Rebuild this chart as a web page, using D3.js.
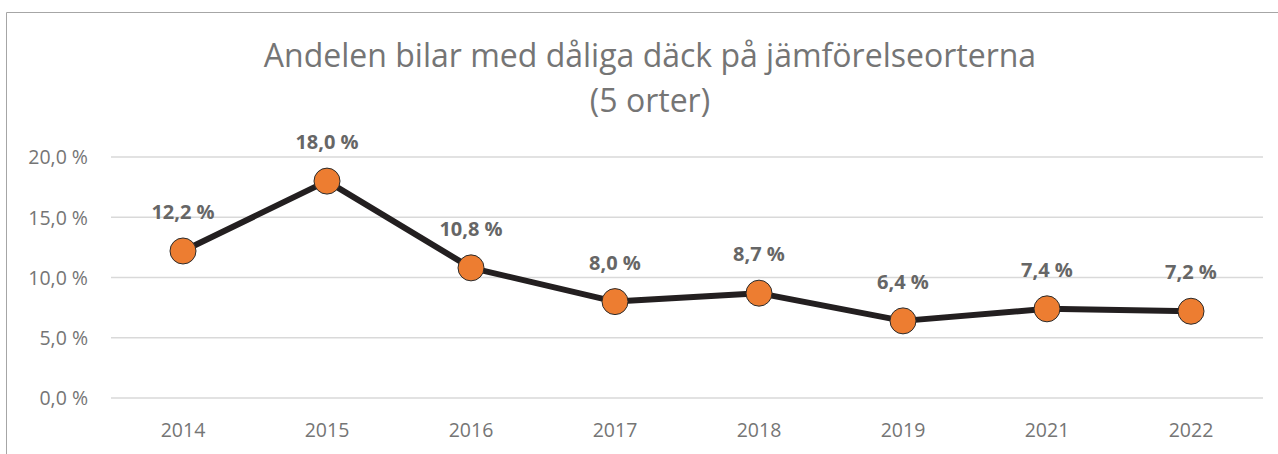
<!DOCTYPE html>
<html><head><meta charset="utf-8">
<script src="https://cdn.jsdelivr.net/npm/d3@7"></script>
<style>body{margin:0;background:#fff}svg{display:block}</style>
</head><body>
<script>
const categories = ["2014","2015","2016","2017","2018","2019","2021","2022"];
const values = [12.2, 18.0, 10.8, 8.0, 8.7, 6.4, 7.4, 7.2];
const yTicks = [0, 5, 10, 15, 20];
const titleLines = ["Andelen bilar med dåliga däck på jämförelseorterna", "(5 orter)"];

const W = 1278, H = 454;
const svg = d3.select("body").append("svg").attr("width", W).attr("height", H);
const font = "'Open Sans', sans-serif";
const fmt = v => d3.format(".1f")(v).replace(".", ",") + " %";

// frame
svg.append("path").attr("d", `M6.5,${H} V12.5 H${W}`).attr("fill","none").attr("stroke","#a6a6a6").attr("stroke-width",1);

const x = d3.scaleBand().domain(categories).range([111, 1263]);
const y = d3.scaleLinear().domain([0, 20]).range([398, 157]);

// gridlines
svg.append("g").selectAll("line").data(yTicks).join("line")
  .attr("x1", 111).attr("x2", 1263)
  .attr("y1", d => y(d)).attr("y2", d => y(d))
  .attr("stroke", "#d9d9d9").attr("stroke-width", 1.3);

// y axis
const yAxis = svg.append("g").attr("transform","translate(95,0)")
  .call(d3.axisLeft(y).tickValues(yTicks).tickFormat(fmt).tickSize(0).tickPadding(7));
yAxis.select(".domain").remove();
yAxis.selectAll("text").attr("font-family", font).attr("font-size", 19.5).attr("fill", "#757575").attr("dy","0.35em");

// x axis
const xAxis = svg.append("g").attr("transform","translate(0,398)")
  .call(d3.axisBottom(x).tickSize(0).tickPadding(0));
xAxis.select(".domain").remove();
xAxis.selectAll("text").attr("font-family", font).attr("font-size", 19.5).attr("fill", "#757575").attr("dy", null).attr("y", 39);

// title
svg.append("g").selectAll("text").data(titleLines).join("text")
  .attr("x", 650).attr("y", (d,i) => 67 + i*45)
  .attr("text-anchor","middle").attr("font-family", font).attr("font-size", 32)
  .attr("fill","#757575").text(d => d);

const cx = (d,i) => x(categories[i]) + x.bandwidth()/2;
// line
svg.append("path").datum(values)
  .attr("d", d3.line().x(cx).y(d => y(d)))
  .attr("fill","none").attr("stroke","#231f20").attr("stroke-width",6).attr("stroke-linejoin","round");

// markers
svg.append("g").selectAll("circle").data(values).join("circle")
  .attr("cx", cx).attr("cy", d => y(d)).attr("r", 13)
  .attr("fill","#ed7d31").attr("stroke","#2b2b2b").attr("stroke-width",1);

// labels
svg.append("g").selectAll("text").data(values).join("text")
  .attr("x", cx).attr("y", d => y(d) - 32)
  .attr("text-anchor","middle").attr("font-family", font).attr("font-weight","bold")
  .attr("font-size", 20).attr("fill","#666666").text(fmt);
</script>
</body></html>
